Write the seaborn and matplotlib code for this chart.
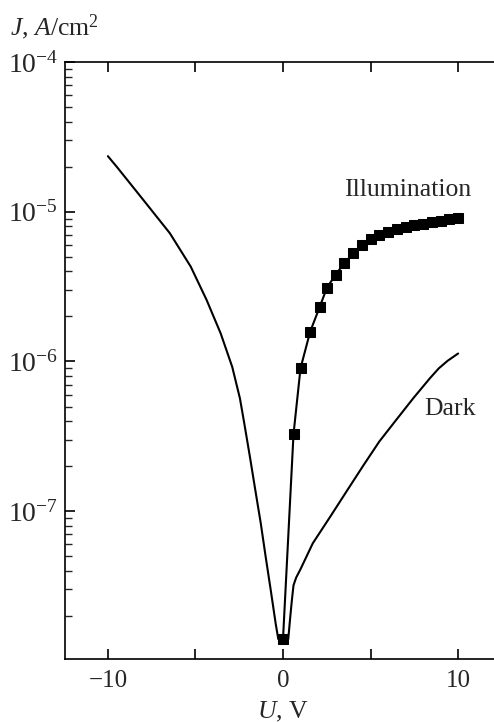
import matplotlib
matplotlib.use('Agg')

import matplotlib.pyplot as plt
import seaborn as sns
import pandas as pd
import numpy as np
from matplotlib.ticker import FixedLocator, LogLocator, NullFormatter

# dark current, U (V) vs J (A/cm^2)
dark_u = [-10.0, -9.5, -7.98, -6.46, -5.27, -4.36, -3.56, -2.9, -2.46, -2.21,
          -1.89, -1.58, -1.27, -0.99, -0.7, -0.42, -0.27, 0.3, 0.42, 0.5,
          0.6, 0.75, 1.0, 1.7, 2.7, 3.6, 4.6, 5.5, 6.5, 7.45, 8.4, 8.9, 9.4,
          10.0]
dark_j = [2.35e-5, 2.0e-5, 1.2e-5, 7.18e-6, 4.3e-6, 2.57e-6, 1.54e-6, 9.2e-7,
          5.67e-7, 3.85e-7, 2.31e-7, 1.38e-7, 8.3e-8, 4.96e-8, 2.97e-8,
          1.78e-8, 1.4e-8, 1.4e-8, 2.0e-8, 2.5e-8, 3.2e-8, 3.6e-8, 4.1e-8,
          6.1e-8, 9.2e-8, 1.34e-7, 2.03e-7, 2.92e-7, 4.12e-7, 5.7e-7,
          7.75e-7, 9.0e-7, 1.01e-6, 1.13e-6]

# illuminated current (squares)
ill_u = [0.0, 0.6, 1.0, 1.55, 2.1, 2.5, 3.0, 3.5, 4.0, 4.5, 5.0, 5.5, 6.0,
         6.5, 7.0, 7.5, 8.0, 8.5, 9.0, 9.5, 10.0]
ill_j = [1.4e-8, 3.27e-7, 9.0e-7, 1.58e-6, 2.32e-6, 3.09e-6, 3.8e-6, 4.52e-6,
         5.27e-6, 6.0e-6, 6.55e-6, 7.0e-6, 7.33e-6, 7.62e-6, 7.94e-6,
         8.13e-6, 8.32e-6, 8.51e-6, 8.71e-6, 8.91e-6, 9.12e-6]

ytick_vals = [1e-7, 1e-6, 1e-5, 1e-4]
ytick_labels = [r'$10^{-7}$', r'$10^{-6}$', r'$10^{-5}$', r'$10^{-4}$']
xtick_vals = [-10, -5, 0, 5, 10]
xtick_labels = ['\u221210', '', '0', '', '10']

sns.set_style('ticks')
plt.rcParams['font.family'] = ['Liberation Serif', 'DejaVu Serif']
plt.rcParams['mathtext.fontset'] = 'custom'
plt.rcParams['mathtext.rm'] = 'Liberation Serif'
plt.rcParams['mathtext.it'] = 'Liberation Serif:italic'

fig = plt.figure(figsize=(4.94, 7.22), dpi=100)
ax = fig.add_axes([65 / 494, 1 - 659 / 722, 1 - 65 / 494, (659 - 62) / 722])

dark = pd.DataFrame({'U': dark_u, 'J': dark_j})
ill = pd.DataFrame({'U': ill_u, 'J': ill_j})

sns.lineplot(data=dark, x='U', y='J', ax=ax, color='black', lw=1.5,
             sort=False, estimator=None)
sns.lineplot(data=ill, x='U', y='J', ax=ax, color='black', lw=1.5,
             marker='s', markersize=7, markeredgecolor='black',
             sort=False, estimator=None)

ax.set_yscale('log')
ax.set_xlim(-12.45, 12.05)
ax.set_ylim(1.03e-8, 1e-4)

ax.yaxis.set_major_locator(FixedLocator(ytick_vals))
ax.set_yticklabels(ytick_labels)
ax.yaxis.set_minor_locator(LogLocator(base=10, subs=np.arange(2, 10)))
ax.yaxis.set_minor_formatter(NullFormatter())
ax.set_xticks(xtick_vals)
ax.set_xticklabels(xtick_labels)

ax.tick_params(axis='both', which='major', direction='in', length=7,
               width=1.2, labelsize=18, color='black')
ax.tick_params(axis='y', which='major', labelsize=20)
ax.tick_params(axis='y', which='minor', direction='in', length=5, width=1.0)
ax.tick_params(axis='x', top=True, pad=8)
ax.tick_params(axis='y', which='both', right=False, pad=5)
ax.spines['right'].set_visible(False)
for s in ['left', 'top', 'bottom']:
    ax.spines[s].set_linewidth(1.2)
    ax.spines[s].set_color('black')

ax.set_xlabel('')
ax.set_ylabel('')

ax.text(7.1, 1.4e-5, 'Illumination', fontsize=18.5, ha='center', va='center')
ax.text(9.55, 4.8e-7, 'Dark', fontsize=18.5, ha='center', va='center')

fig.text(10 / 494, 1 - 35 / 722, r'$J$, $A$/cm$^2$', fontsize=18.5,
         ha='left', va='baseline')
fig.text(283 / 494, 1 - 718 / 722, r'$U$, V', fontsize=18.5,
         ha='center', va='baseline')

fig.savefig('out.png', dpi=100)
